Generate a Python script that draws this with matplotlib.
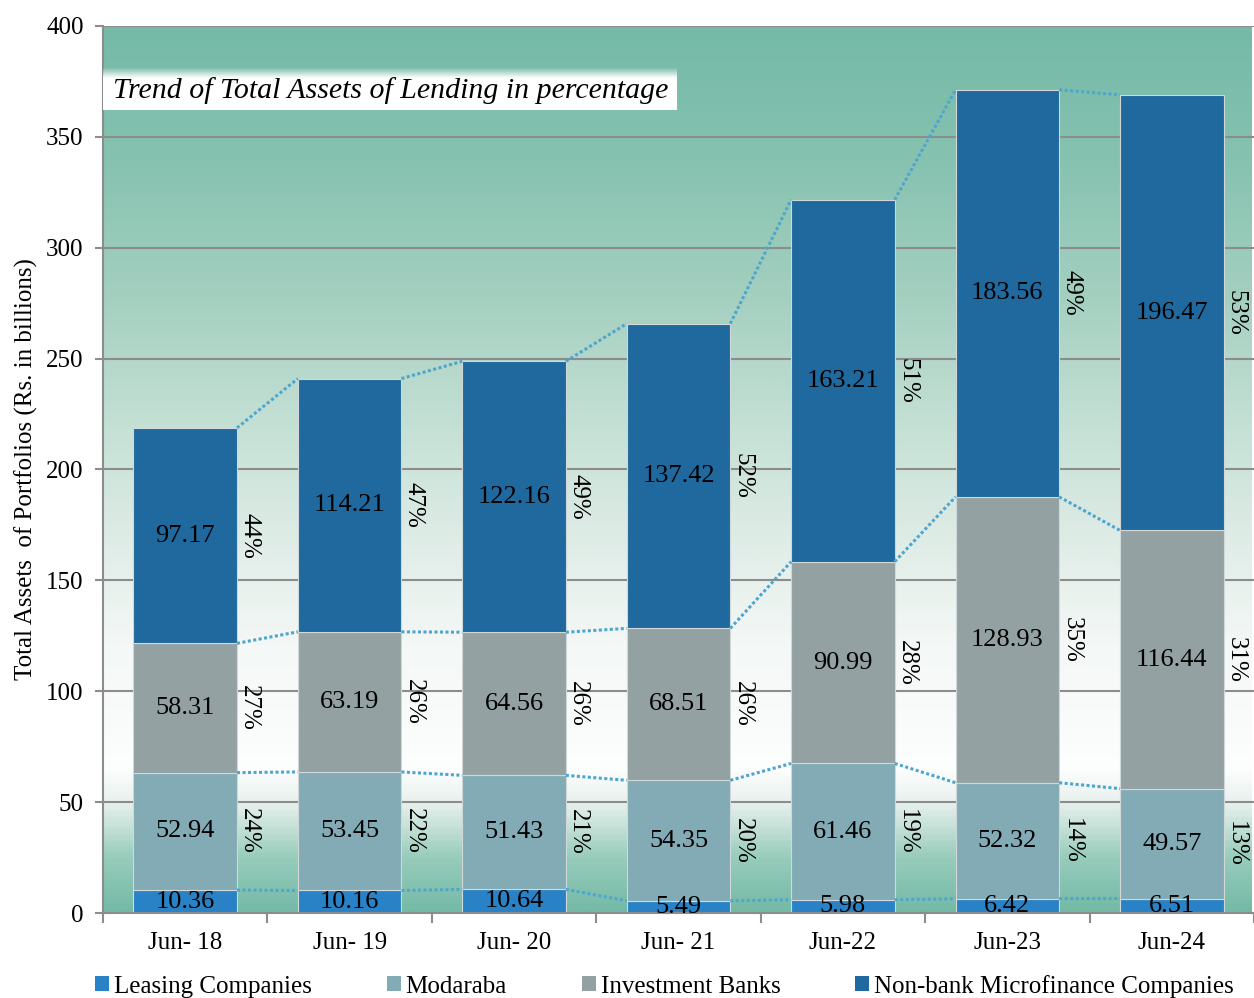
import numpy as np
import matplotlib.pyplot as plt
from matplotlib.colors import LinearSegmentedColormap
from matplotlib.patches import Patch

plt.rcParams['font.family'] = ['Liberation Serif', 'DejaVu Serif']

periods = ['Jun- 18', 'Jun- 19', 'Jun- 20', 'Jun- 21', 'Jun-22', 'Jun-23', 'Jun-24']
leasing = [10.36, 10.16, 10.64, 5.49, 5.98, 6.42, 6.51]
modaraba = [52.94, 53.45, 51.43, 54.35, 61.46, 52.32, 49.57]
inv_banks = [58.31, 63.19, 64.56, 68.51, 90.99, 128.93, 116.44]
nbmfc = [97.17, 114.21, 122.16, 137.42, 163.21, 183.56, 196.47]

pct_modaraba = [24, 22, 21, 20, 19, 14, 13]
pct_inv_banks = [27, 26, 26, 26, 28, 35, 31]
pct_nbmfc = [44, 47, 49, 52, 51, 49, 53]

series = [
    ('Leasing Companies', leasing, '#2a82c6', None),
    ('Modaraba', modaraba, '#83abb6', pct_modaraba),
    ('Investment Banks', inv_banks, '#94a1a2', pct_inv_banks),
    ('Non-bank Microfinance Companies', nbmfc, '#1f699e', pct_nbmfc),
]

fig = plt.figure(figsize=(12.54, 9.98), dpi=100)
ax = fig.add_axes([103 / 1254, 85 / 998, 1 - 103 / 1254, 887 / 998])

x = np.arange(len(periods))
w = 0.63
ax.set_xlim(-0.5, 6.485)
ax.set_ylim(0, 400)

# background gradient (teal top, white near 60, teal at bottom)
cmap = LinearSegmentedColormap.from_list('bg', [
    (0.0, '#74baa6'), (0.06, '#98ccbb'), (0.12, '#e6f0ec'), (0.16, '#fdfefe'),
    (0.30, '#f4f8f6'), (0.40, '#e3eee9'), (0.55, '#c4e0d5'), (0.70, '#a3cfbf'),
    (0.85, '#86c2b0'), (1.0, '#74baa7')])
grad = np.linspace(0, 1, 400).reshape(-1, 1)
ax.imshow(grad, cmap=cmap, aspect='auto', origin='lower',
          extent=(-0.5, 6.485, 0, 400), zorder=0)

ax.set_yticks(np.arange(0, 401, 50))
ax.grid(axis='y', color='#8c8c8c', linewidth=1.5, zorder=1)
ax.set_axisbelow(True)

bottom = np.zeros(len(periods))
tops = []
for name, vals, color, pcts in series:
    vals = np.array(vals)
    ax.bar(x, vals, w, bottom=bottom, color=color, edgecolor='#d0d8da',
           linewidth=0.8, zorder=2, label=name)
    for i, v in enumerate(vals):
        ax.text(x[i], bottom[i] + v / 2, f'{v:.2f}', ha='center', va='center',
                fontsize=19, zorder=5)
        if pcts is not None:
            ax.text(x[i] + w / 2 + 0.008, bottom[i] + v / 2, f'{pcts[i]}%',
                    rotation=270, ha='left', va='center', fontsize=18, zorder=5)
    bottom = bottom + vals
    tops.append(bottom.copy())

# series connector lines between bars
for top in tops:
    for i in range(len(periods) - 1):
        ax.plot([x[i] + w / 2, x[i + 1] - w / 2], [top[i], top[i + 1]],
                color='#4ea6cf', linewidth=2.2, linestyle=(0, (1, 0.8)), zorder=3)

# title box
box = np.linspace(0, 1, 50).reshape(-1, 1)
white_fade = np.ones((50, 1, 4))
white_fade[:, 0, 3] = np.clip((1 - box[:, 0]) * 4, 0, 1)
ax.imshow(white_fade, aspect='auto', origin='lower',
          extent=(-0.5, -0.5 + 575 / 164.8, 362, 381), zorder=4)
ax.text(-0.5 + 10 / 164.8, 371, 'Trend of Total Assets of Lending in percentage',
        fontsize=21.5, style='italic', ha='left', va='center', zorder=5)
ax.set_xlim(-0.5, 6.485)
ax.set_ylim(0, 400)

for s in ['right', 'top']:
    ax.spines[s].set_visible(False)
for s in ['left', 'bottom']:
    ax.spines[s].set_color('#8c8c8c')
    ax.spines[s].set_linewidth(1.5)

ax.set_xticks(x)
ax.set_xticklabels(periods, fontsize=18)
ax.set_xticks(np.arange(-0.5, 6.6, 1), minor=True)
ax.tick_params(axis='x', which='major', length=0, pad=14)
ax.tick_params(axis='x', which='minor', length=7, width=1.5, color='#8c8c8c')
ax.tick_params(axis='y', length=6, width=1.5, color='#8c8c8c', labelsize=18, pad=8)

ax.set_ylabel('Total Assets  of Portfolios (Rs. in billions)', fontsize=18, labelpad=6)

handles = [Patch(facecolor=c, label=n) for n, _, c, _ in series]
fig.legend(handles=handles, loc='center', bbox_to_anchor=(0.53, 0.012), ncol=4,
           frameon=False, fontsize=18, handlelength=0.55, handleheight=0.55,
           handletextpad=0.2, columnspacing=3.0, borderaxespad=0)

fig.savefig('out.png', dpi=100)
